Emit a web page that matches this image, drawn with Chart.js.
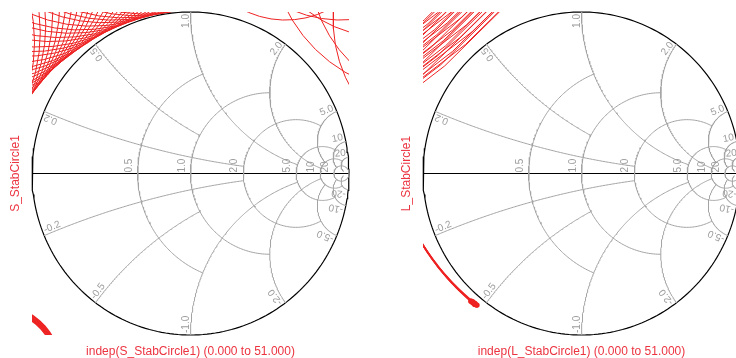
<!DOCTYPE html>
<html>
<head>
<meta charset="utf-8">
<script src="https://cdn.jsdelivr.net/npm/chart.js@4.4.1/dist/chart.umd.min.js"></script>
<style>
  html, body { margin: 0; padding: 0; background: #fff; width: 736px; height: 358px; overflow: hidden; }
  .pane { position: absolute; top: 0; height: 358px; }
  #pane-s { left: 0; width: 368px; }
  #pane-l { left: 368px; width: 380px; }
</style>
</head>
<body>
<div class="pane" id="pane-s"><canvas id="chart-s" width="368" height="358"></canvas></div>
<div class="pane" id="pane-l"><canvas id="chart-l" width="380" height="358"></canvas></div>
<script>
/**
 * Source / load stability circles on Smith charts
 */

const RED = "#ee2222";
const RED_TEXT = "#ec3340";
const GRID = "#a3a3a3";
const LABEL = "#9c9c9c";

// Smith grid: resistance circles and the |x| where each one stops
const R_CIRCLES = [0.5, 1, 2, 5, 10, 20];
const R_LIMIT = [1, 2, 5, 10, 20, Infinity];
const R_LABELS = ["0.5", "1.0", "2.0", "5.0", "10", "20"];

// reactance arcs and the r where each one stops
const X_ARCS = [0.2, 0.5, 1, 2, 5, 10, 20];
const X_LIMIT = [2, 1, 5, 10, 10, 20, 50];
const X_LABELS = ["0.2", "0.5", "1.0", "2.0", "5.0", "10", "20"];

const STAB_POINTS = 52; // indep 0 .. 51

// S_StabCircle1 — fan of circles above the upper-left rim
// (direction of nearest point in degrees, distance of nearest point, radius)
const S_FAN_ANGLE = [98, 100, 102, 104, 106, 108, 110, 112, 114, 116, 118, 120, 122, 124, 126, 128,
  130, 132, 134, 136, 138, 140, 142, 144, 146, 148, 150, 152, 154, 156, 158];
const S_FAN_GAP = [1.006, 1.007, 1.008, 1.009, 1.010, 1.011, 1.012, 1.014, 1.016, 1.019, 1.022, 1.025,
  1.028, 1.031, 1.034, 1.039, 1.044, 1.050, 1.057, 1.064, 1.071, 1.077, 1.083, 1.089, 1.095, 1.102,
  1.109, 1.117, 1.125, 1.133, 1.142];
const S_FAN_RADIUS = [1.00, 0.98, 1.02, 1.00, 0.97, 1.01, 1.03, 0.99, 1.00, 0.98, 1.02, 1.00, 0.97, 1.01,
  1.03, 0.99, 1.00, 0.98, 1.02, 1.00, 0.97, 1.01, 1.03, 0.99, 1.00, 0.98, 1.02, 1.00, 0.97, 1.01, 1.03];

// S_StabCircle1 — circles off the upper-right corner (centre x, centre y, radius)
const S_CORNER_CX = [1.45, 1.60, 1.20, 0.60, 1.75, 0.95];
const S_CORNER_CY = [1.45, 1.30, 1.60, 1.55, 0.95, 1.75];
const S_CORNER_R = [0.95, 0.85, 0.75, 0.60, 0.85, 0.80];

// S_StabCircle1 — small circles off the lower-left corner
const S_LOW_CX = [-1.20, -1.20, -1.20, -1.20, -1.20, -1.20];
const S_LOW_CY = [-1.20, -1.20, -1.20, -1.20, -1.20, -1.20];
const S_LOW_R = [0.350, 0.356, 0.362, 0.368, 0.374, 0.380];

// L_StabCircle1 — large circles crossing the upper-left corner
const L_HATCH_ANGLE = [133, 131, 133, 132, 130, 134, 131, 133, 132, 130, 134, 132, 131,
  133, 130, 134, 132, 131, 133, 132, 130, 134, 131, 133, 132, 131, 133, 132];
const L_HATCH_GAP = [1.072, 1.083, 1.094, 1.105, 1.116, 1.127, 1.138, 1.149, 1.160, 1.171, 1.182,
  1.193, 1.204, 1.215, 1.226, 1.237, 1.248, 1.259, 1.270, 1.281, 1.292, 1.303, 1.314, 1.325, 1.336,
  1.347, 1.358, 1.369];
const L_HATCH_RADIUS = [4.2, 3.8, 4.5, 4.0, 3.6, 4.8, 4.1, 3.9, 4.4, 3.7, 4.6, 4.0, 4.3,
  3.8, 4.5, 3.9, 4.2, 4.0, 4.4, 3.7, 4.1, 4.6, 3.9, 4.2, 4.0, 4.3, 3.8, 4.1];

// L_StabCircle1 — partial arcs hugging the lower-left rim
const L_ARC_CX = [0.25, 0.255, 0.245, 0.25];
const L_ARC_CY = [0.35, 0.345, 0.355, 0.35];
const L_ARC_R = [1.480, 1.483, 1.478, 1.481];
const L_ARC_FROM = [200, 200, 200, 200];
const L_ARC_TO = [231.9, 231.2, 232.3, 231.6];

function gamma(r, x) {
  // reflection coefficient of normalised impedance r + jx
  const d = (r + 1) * (r + 1) + x * x;
  return { x: (r * r + x * x - 1) / d, y: (2 * x) / d };
}

function line(data, color, width, clip = 2) {
  return {
    data, showLine: true, fill: false, borderColor: color, borderWidth: width,
    pointRadius: 0, pointHoverRadius: 0, clip,
  };
}

function gridSets() {
  const sets = [];
  const N = 140;

  R_CIRCLES.forEach((r, i) => {
    const c = r / (1 + r), rad = 1 / (1 + r);
    const lim = R_LIMIT[i];
    let a1 = 0;
    if (isFinite(lim)) {
      const g = gamma(r, lim);
      a1 = Math.atan2(g.y, g.x - c);
    }
    const pts = [];
    for (let k = 0; k <= N; k++) {
      const a = a1 + (2 * Math.PI - 2 * a1) * k / N;
      pts.push({ x: c + rad * Math.cos(a), y: rad * Math.sin(a) });
    }
    sets.push(line(pts, GRID, 1));
  });

  X_ARCS.forEach((xv, i) => {
    [1, -1].forEach(sign => {
      const cy = sign / xv, rad = 1 / xv;
      const g0 = gamma(0, sign * xv), g1 = gamma(X_LIMIT[i], sign * xv);
      const a0 = Math.atan2(g0.y - cy, g0.x - 1);
      let da = Math.atan2(g1.y - cy, g1.x - 1) - a0;
      while (da > Math.PI) da -= 2 * Math.PI;
      while (da < -Math.PI) da += 2 * Math.PI;
      const pts = [];
      for (let k = 0; k <= N; k++) {
        const a = a0 + da * k / N;
        pts.push({ x: 1 + rad * Math.cos(a), y: cy + rad * Math.sin(a) });
      }
      sets.push(line(pts, GRID, 1));
    });
  });

  // rim and real axis
  const rim = [];
  for (let k = 0; k <= 240; k++) {
    const a = 2 * Math.PI * k / 240;
    rim.push({ x: Math.cos(a), y: Math.sin(a) });
  }
  sets.push(line(rim, "#000000", 1.2, 3));
  sets.push(line([{ x: -1, y: 0 }, { x: 1, y: 0 }], "#000000", 1));
  return sets;
}

function circlePoints(cx, cy, rad, fromDeg = 0, toDeg = 360) {
  const pts = [];
  for (let k = 0; k < STAB_POINTS; k++) {
    const a = (fromDeg + (toDeg - fromDeg) * k / (STAB_POINTS - 1)) * Math.PI / 180;
    pts.push({ x: cx + rad * Math.cos(a), y: cy + rad * Math.sin(a) });
  }
  return pts;
}

function nearestPointCircles(angles, gaps, radii) {
  return angles.map((deg, i) => {
    const a = deg * Math.PI / 180;
    const dist = gaps[i] + radii[i];
    return line(circlePoints(dist * Math.cos(a), dist * Math.sin(a), radii[i]), RED, 1, 0);
  });
}

function centreCircles(cxs, cys, radii, width = 1) {
  return cxs.map((cx, i) => line(circlePoints(cx, cys[i], radii[i]), RED, width, 0));
}

const smithLabels = {
  id: "smithLabels",
  afterDatasetsDraw(chart, args, opts) {
    const { ctx, chartArea: area } = chart;
    const sx = chart.scales.x, sy = chart.scales.y;
    ctx.save();
    ctx.font = '10px "Liberation Sans", Arial, sans-serif';
    ctx.fillStyle = LABEL;
    ctx.textBaseline = "alphabetic";

    // resistance values along the real axis
    R_CIRCLES.forEach((r, i) => {
      const px = sx.getPixelForValue((r - 1) / (r + 1));
      const py = sy.getPixelForValue(0);
      ctx.save();
      ctx.translate(px - 6, py - 1);
      ctx.rotate(-Math.PI / 2);
      ctx.textAlign = "left";
      ctx.fillText(R_LABELS[i], 0, 0);
      ctx.restore();
    });

    // reactance values at the rim
    X_ARCS.forEach((xv, i) => {
      [1, -1].forEach(sign => {
        const g = gamma(0, sign * xv);
        const phi = Math.atan2(g.y, g.x);
        ctx.save();
        ctx.translate(sx.getPixelForValue(g.x), sy.getPixelForValue(g.y));
        if (sign > 0) {
          ctx.rotate(-phi);
          ctx.textAlign = "right";
          ctx.fillText(X_LABELS[i], -2, -2);
        } else {
          ctx.rotate(-(phi + Math.PI));
          ctx.textAlign = "left";
          ctx.fillText("-" + X_LABELS[i], 2, -2);
        }
        ctx.restore();
      });
    });

    // axis titles
    ctx.font = '12px "Liberation Sans", Arial, sans-serif';
    ctx.fillStyle = RED_TEXT;
    ctx.textAlign = "center";
    ctx.textBaseline = "middle";
    ctx.fillText(opts.xTitle, (area.left + area.right) / 2, 352);
    ctx.save();
    ctx.translate(area.left - 16, (area.top + area.bottom) / 2);
    ctx.rotate(-Math.PI / 2);
    ctx.fillText(opts.yTitle, 0, 0);
    ctx.restore();
    ctx.restore();
  },
};

function smithChart(id, padding, stabSets, xTitle, yTitle) {
  return new Chart(document.getElementById(id), {
    type: "scatter",
    data: { datasets: [...gridSets(), ...stabSets] },
    options: {
      responsive: false,
      animation: false,
      layout: { padding },
      scales: {
        x: { type: "linear", min: -1, max: 1, display: false },
        y: { type: "linear", min: -1, max: 1, display: false },
      },
      plugins: {
        legend: { display: false },
        tooltip: { enabled: false },
        smithLabels: { xTitle, yTitle },
      },
      events: [],
    },
    plugins: [smithLabels],
  });
}

// source plane
smithChart("chart-s", { left: 32, right: 19, top: 12, bottom: 23 }, [
  ...nearestPointCircles(S_FAN_ANGLE, S_FAN_GAP, S_FAN_RADIUS),
  ...centreCircles(S_CORNER_CX, S_CORNER_CY, S_CORNER_R),
  ...centreCircles(S_LOW_CX, S_LOW_CY, S_LOW_R, 1.5),
], "indep(S_StabCircle1) (0.000 to 51.000)", "S_StabCircle1");

// load plane
const lArcs = L_ARC_CX.map((cx, i) => {
  const ds = line(circlePoints(cx, L_ARC_CY[i], L_ARC_R[i], L_ARC_FROM[i], L_ARC_TO[i]), RED, 1.6, 0);
  ds.pointRadius = c => (c.dataIndex >= STAB_POINTS - 3 ? 2.6 : 0);
  ds.pointBackgroundColor = RED;
  ds.pointBorderWidth = 0;
  return ds;
});

smithChart("chart-l", { left: 55, right: 8, top: 12, bottom: 23 }, [
  ...nearestPointCircles(L_HATCH_ANGLE, L_HATCH_GAP, L_HATCH_RADIUS),
  ...lArcs,
], "indep(L_StabCircle1) (0.000 to 51.000)", "L_StabCircle1");
</script>
</body>
</html>
